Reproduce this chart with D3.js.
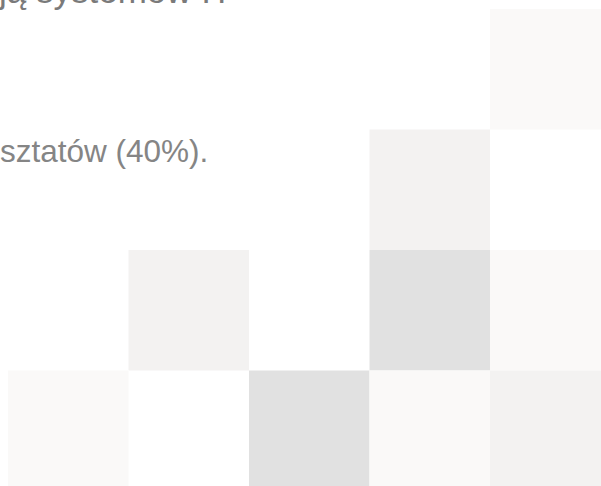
<!DOCTYPE html>
<html>
<head>
<meta charset="utf-8">
<script src="https://cdn.jsdelivr.net/npm/d3@7"></script>
<style>
  html, body { margin: 0; padding: 0; background: #fff; overflow: hidden; }
  svg { display: block; }
</style>
</head>
<body>
<svg id="chart"></svg>
<script>
// grid of tiles
const columns = [0, 1, 2, 3, 4];
const rows = [0, 1, 2, 3];
const tileRow = [0, 1, 2, 2, 2, 3, 3, 3, 3];
const tileCol = [4, 3, 1, 3, 4, 0, 2, 3, 4];
const tileShade = [1, 2, 2, 3, 1, 1, 3, 1, 2];
const shadeLevels = [0, 1, 2, 3];
const shadeColors = ["#ffffff", "#faf9f8", "#f3f2f1", "#e1e1e1"];

// text fragments
const textLines = ["ją systemów IT", "sztatów (40%)."];

const width = 601, height = 486;

const svg = d3.select("#chart")
  .attr("width", width)
  .attr("height", height);

const x = d3.scaleBand()
  .domain(columns)
  .range([8, 610.5]);

const y = d3.scaleBand()
  .domain(rows)
  .range([9, 491]);

const color = d3.scaleOrdinal()
  .domain(shadeLevels)
  .range(shadeColors);

const tiles = tileRow.map((r, i) => ({ row: r, col: tileCol[i], shade: tileShade[i] }));

svg.append("g")
  .selectAll("rect")
  .data(tiles)
  .enter()
  .append("rect")
  .attr("x", d => x(d.col))
  .attr("y", d => y(d.row))
  .attr("width", x.bandwidth())
  .attr("height", y.bandwidth())
  .attr("fill", d => color(d.shade));

svg.append("text")
  .attr("x", -1)
  .attr("y", 3)
  .attr("font-family", "Liberation Sans, Arial, sans-serif")
  .attr("font-size", 35)
  .attr("fill", "#7a7a7a")
  .text(textLines[0]);

svg.append("text")
  .attr("x", 0)
  .attr("y", 162)
  .attr("font-family", "Liberation Sans, Arial, sans-serif")
  .attr("font-size", 31.5)
  .attr("fill", "#858585")
  .text(textLines[1]);
</script>
</body>
</html>
